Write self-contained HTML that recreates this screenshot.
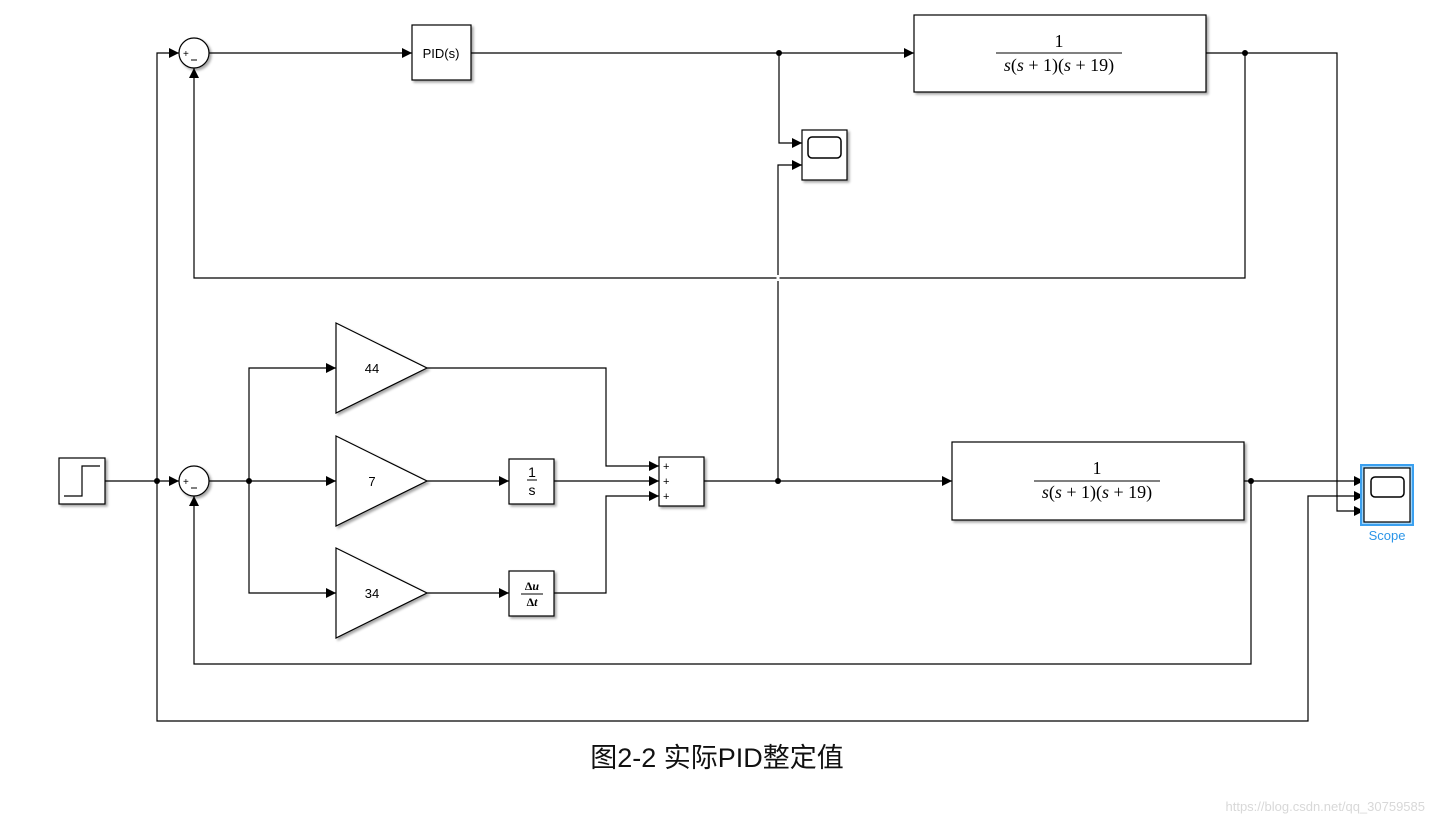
<!DOCTYPE html>
<html><head><meta charset="utf-8"><style>
html,body{margin:0;padding:0;background:#fff;width:1434px;height:825px;overflow:hidden}
.s{font-family:"Liberation Sans",sans-serif}
.m{font-family:"Liberation Serif",serif}
</style></head><body>
<svg width="1434" height="825" viewBox="0 0 1434 825" xmlns="http://www.w3.org/2000/svg">
<defs>
<marker id="a" viewBox="0 0 10 10" refX="10" refY="5" markerWidth="10" markerHeight="10" markerUnits="userSpaceOnUse" orient="auto"><path d="M0,0 L10,5 L0,10z" fill="#000"/></marker>
<filter id="sh" x="-10%" y="-10%" width="130%" height="130%"><feDropShadow dx="2" dy="2" stdDeviation="1.2" flood-color="#000" flood-opacity="0.35"/></filter>
</defs>
<g fill="none" stroke="#000" stroke-width="1.2">
<path d="M157,481 V53 H179" marker-end="url(#a)"/>
<path d="M209,53 H412" marker-end="url(#a)"/>
<path d="M471,53 H914" marker-end="url(#a)"/>
<path d="M779,53 V143 H802" marker-end="url(#a)"/>
<path d="M1206,53 H1337 V511 H1364" marker-end="url(#a)"/>
<path d="M1245,53 V278 H194 V68" marker-end="url(#a)"/>
<path d="M105,481 H179" marker-end="url(#a)"/>
<path d="M209,481 H336" marker-end="url(#a)"/>
<path d="M249,481 V368 H336" marker-end="url(#a)"/>
<path d="M249,481 V593 H336" marker-end="url(#a)"/>
<path d="M427,481 H509" marker-end="url(#a)"/>
<path d="M427,593 H509" marker-end="url(#a)"/>
<path d="M427,368 H606 V466 H659" marker-end="url(#a)"/>
<path d="M554,481 H659" marker-end="url(#a)"/>
<path d="M554,593 H606 V496 H659" marker-end="url(#a)"/>
<path d="M704,481 H952" marker-end="url(#a)"/>
<path d="M778,481 V165 H802" marker-end="url(#a)"/>
<path d="M1244,481 H1364" marker-end="url(#a)"/>
<path d="M1251,481 V664 H194 V496" marker-end="url(#a)"/>
<path d="M157,481 V721 H1308 V496 H1364" marker-end="url(#a)"/>
</g>
<line x1="778" y1="275" x2="778" y2="281" stroke="#fff" stroke-width="3"/>
<g fill="#000">
<circle cx="779" cy="53" r="3"/><circle cx="1245" cy="53" r="3"/>
<circle cx="157" cy="481" r="3"/><circle cx="249" cy="481" r="3"/>
<circle cx="778" cy="481" r="3"/><circle cx="1251" cy="481" r="3"/>
</g>
<g fill="#fff" stroke="#000" stroke-width="1.2" filter="url(#sh)">
<circle cx="194" cy="53" r="15"/>
<circle cx="194" cy="481" r="15"/>
<rect x="412" y="25" width="59" height="55"/>
<rect x="914" y="15" width="292" height="77"/>
<rect x="802" y="130" width="45" height="50"/>
<rect x="59" y="458" width="46" height="46"/>
<polygon points="336,323 427,368 336,413"/>
<polygon points="336,436 427,481 336,526"/>
<polygon points="336,548 427,593 336,638"/>
<rect x="509" y="459" width="45" height="45"/>
<rect x="509" y="571" width="45" height="45"/>
<rect x="659" y="457" width="45" height="49"/>
<rect x="952" y="442" width="292" height="78"/>
</g>
<rect x="1361" y="465" width="52" height="60" fill="#9fd3f7" stroke="#3aa0f0" stroke-width="2"/>
<rect x="1364" y="468" width="46" height="54" fill="#fff" stroke="#000" stroke-width="1.2"/>
<rect x="1371" y="477" width="33" height="20" rx="4" fill="none" stroke="#000" stroke-width="1.5"/>
<rect x="808" y="137" width="33" height="21" rx="4" fill="none" stroke="#000" stroke-width="1.5"/>
<path d="M64,496 H82 V466 H100" fill="none" stroke="#000" stroke-width="1.2"/>
<g stroke="#000" stroke-width="1"><line x1="191" y1="60" x2="197" y2="60"/><line x1="191" y1="488" x2="197" y2="488"/></g>
<g class="s" font-size="10" fill="#000">
<text x="183" y="57">+</text>
<text x="183" y="485">+</text>
<text x="663" y="470" font-size="11">+</text><text x="663" y="485" font-size="11">+</text><text x="663" y="500" font-size="11">+</text>
</g>
<g class="s" font-size="13" text-anchor="middle" fill="#000">
<text x="441" y="58">PID(s)</text>
<text x="372" y="373">44</text><text x="372" y="486">7</text><text x="372" y="598">34</text>
<text x="532" y="477" font-size="14">1</text>
<text x="532" y="495" font-size="14">s</text>
<text x="1387" y="540" fill="#2b95e8" font-size="13">Scope</text>
</g>
<line x1="527" y1="480" x2="537" y2="480" stroke="#000"/>
<g class="m" text-anchor="middle" fill="#000">
<text x="532" y="590" font-size="12" font-weight="bold">Δ<tspan font-style="italic">u</tspan></text>
<text x="532" y="606" font-size="12" font-weight="bold">Δ<tspan font-style="italic">t</tspan></text>
<text x="1059" y="47" font-size="18">1</text>
<text x="1059" y="71" font-size="18"><tspan font-style="italic">s</tspan>(<tspan font-style="italic">s</tspan> + 1)(<tspan font-style="italic">s</tspan> + 19)</text>
<text x="1097" y="474" font-size="18">1</text>
<text x="1097" y="498" font-size="18"><tspan font-style="italic">s</tspan>(<tspan font-style="italic">s</tspan> + 1)(<tspan font-style="italic">s</tspan> + 19)</text>
</g>
<line x1="521" y1="594" x2="543" y2="594" stroke="#000"/>
<line x1="996" y1="53" x2="1122" y2="53" stroke="#000"/>
<line x1="1034" y1="481" x2="1160" y2="481" stroke="#000"/>
<text x="717" y="767" text-anchor="middle" font-size="27" fill="#111" style='font-family:"Liberation Sans","Noto Sans CJK SC",sans-serif'>图2-2 实际PID整定值</text>
<text class="s" x="1425" y="811" text-anchor="end" font-size="13" fill="#d8d8d8">https://blog.csdn.net/qq_30759585</text>
</svg>
</body></html>
